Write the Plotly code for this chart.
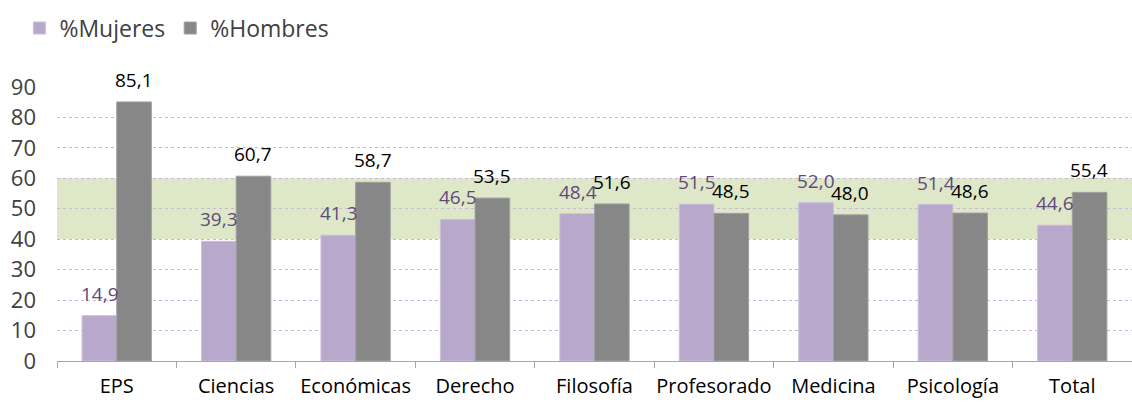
import plotly.graph_objects as go

categorias = ['EPS', 'Ciencias', 'Económicas', 'Derecho', 'Filosofía', 'Profesorado', 'Medicina', 'Psicología', 'Total']
mujeres = [14.9, 39.3, 41.3, 46.5, 48.4, 51.5, 52.0, 51.4, 44.6]
hombres = [85.1, 60.7, 58.7, 53.5, 51.6, 48.5, 48.0, 48.6, 55.4]
banda = [40, 60]


def etiqueta(v):
    return f'{v:.1f}'.replace('.', ',')


fig = go.Figure()

fig.add_trace(go.Bar(
    x=categorias, y=mujeres, name='%Mujeres',
    marker=dict(color='#b8a9cc', line=dict(color='#cbbfdb', width=1)),
))
fig.add_trace(go.Bar(
    x=categorias, y=hombres, name='%Hombres',
    marker=dict(color='#878787', line=dict(color='#a0a0a0', width=1)),
))

# data labels, a bit above each bar like the Excel original
for c, m, h in zip(categorias, mujeres, hombres):
    fig.add_annotation(x=c, y=m, text=etiqueta(m), showarrow=False, xshift=-17, yshift=22,
                       font=dict(color='#604a7b', size=19))
    fig.add_annotation(x=c, y=h, text=etiqueta(h), showarrow=False, xshift=17, yshift=22,
                       font=dict(color='#000000', size=19))

# green band 40-60
fig.add_hrect(y0=banda[0], y1=banda[1], fillcolor='#dfe7c9', line_width=0, layer='below')

fig.update_xaxes(
    showline=True, linecolor='#a6a6a6', linewidth=1, automargin=False,
    ticks='outside', tickson='boundaries', ticklen=6, tickcolor='#a6a6a6',
    tickfont=dict(size=20, color='#000000'), ticklabelstandoff=7, tickangle=0,
)
fig.update_yaxes(
    range=[0, 90], dtick=10, showgrid=True, gridcolor='#c9b6e0', griddash='dot', gridwidth=1,
    zeroline=False, tickfont=dict(size=22, color='#404040'), ticklabelstandoff=20,
    automargin=False,
)

fig.update_layout(
    width=1132, height=402,
    barmode='group', bargap=0.42, bargroupgap=0,
    plot_bgcolor='white', paper_bgcolor='white',
    font=dict(family='Open Sans, Liberation Sans, sans-serif'),
    margin=dict(l=57, r=0, t=87, b=41),
    legend=dict(orientation='h', x=-0.035, y=1.215, xanchor='left', yanchor='middle',
                font=dict(size=23, color='#404040'), itemwidth=30),
    showlegend=True,
)

fig.write_html('out.html', config={'displayModeBar': False},
               post_script="document.body.style.margin='0';")
